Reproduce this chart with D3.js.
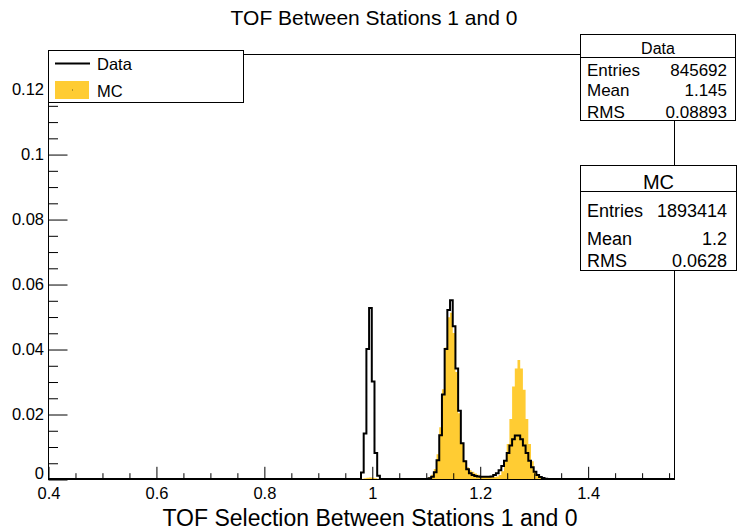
<!DOCTYPE html>
<html>
<head>
<meta charset="utf-8">
<script src="https://cdn.jsdelivr.net/npm/d3@7"></script>
<style>
  body { margin: 0; background: #fff; }
  text { font-family: "Liberation Sans", Arial, Helvetica, sans-serif; fill: #000; }
</style>
</head>
<body>
<div id="chart"></div>
<script>
// Histogram contents (normalised), bins of 0.005 starting at histStart
var binWidth = 0.005;
var histStart = 0.975;

var dataCounts = [
  0, 0.002, 0.014, 0.040, 0.0526, 0.030, 0.008, 0.001, 0, 0,
  0, 0, 0, 0, 0, 0, 0, 0, 0, 0,
  0, 0, 0, 0, 0, 0, 0.0002, 0.0007, 0.0021, 0.0058,
  0.0135, 0.026, 0.040, 0.052, 0.055, 0.047, 0.034, 0.021, 0.011, 0.0055,
  0.0030, 0.0018, 0.0012, 0.0009, 0.0008, 0.0007, 0.0007, 0.0007, 0.0007, 0.0008,
  0.0012, 0.0018, 0.0027, 0.004, 0.0056, 0.008, 0.0103, 0.0122, 0.0134, 0.0134,
  0.0122, 0.0103, 0.008, 0.0056, 0.0036, 0.0022, 0.0012, 0.0006, 0.0003, 0.0001,
  0
];

var mcCounts = [
  0, 0.0001, 0.0002, 0.0004, 0.0005, 0.0004, 0.0002, 0.0001, 0, 0,
  0, 0, 0, 0, 0, 0, 0, 0, 0, 0,
  0, 0, 0, 0, 0.0001, 0.0003, 0.0006, 0.0013, 0.0031, 0.0076,
  0.0159, 0.0276, 0.0405, 0.0498, 0.0512, 0.0449, 0.0329, 0.0202, 0.0108, 0.0058,
  0.0036, 0.0027, 0.0022, 0.0017, 0.0013, 0.0009, 0.0007, 0.0006, 0.0006, 0.0006,
  0.0006, 0.0008, 0.0012, 0.0024, 0.0055, 0.0108, 0.0185, 0.0285, 0.034, 0.0366,
  0.034, 0.0275, 0.0185, 0.0108, 0.0055, 0.0024, 0.0009, 0.0003, 0.0001, 0
];

var xMajorTicks = [0.4, 0.6, 0.8, 1.0, 1.2, 1.4];
var yMajorTicks = [0, 0.02, 0.04, 0.06, 0.08, 0.1, 0.12];

var statsData = [["Entries", "845692"], ["Mean", "1.145"], ["RMS", "0.08893"]];
var statsMC = [["Entries", "1893414"], ["Mean", "1.2"], ["RMS", "0.0628"]];

var mcColor = "#ffcc33";

// Layout
var svgWidth = 738;
var svgHeight = 530;
var margin = {top: 54, right: 64, bottom: 51, left: 48};
var width = svgWidth - margin.left - margin.right;
var height = svgHeight - margin.top - margin.bottom;

var svg = d3.select("#chart")
  .append("svg")
  .attr("width", svgWidth)
  .attr("height", svgHeight);

var chartGroup = svg.append("g")
  .attr("transform", `translate(${margin.left}, ${margin.top})`);

var x = d3.scaleLinear().domain([0.4, 1.56]).range([0, width]);
var y = d3.scaleLinear().domain([0, 0.1308]).range([height, 0]);

// frame
chartGroup.append("rect")
  .attr("x", 0.5).attr("y", 0.5)
  .attr("width", width).attr("height", height)
  .attr("fill", "none")
  .attr("stroke", "#000")
  .attr("stroke-width", 1);

// step points from bin contents
function stepPoints(counts, closeBase) {
  var pts = [];
  var dom = x.domain();
  if (!closeBase) pts.push([dom[0], 0]);
  pts.push([histStart, 0]);
  counts.forEach(function(c, i) {
    var x0 = histStart + i * binWidth;
    pts.push([x0, c]);
    pts.push([x0 + binWidth, c]);
  });
  var end = histStart + counts.length * binWidth;
  pts.push([end, 0]);
  if (!closeBase) pts.push([dom[1], 0]);
  return pts;
}

var line = d3.line()
  .x(d => x(d[0]))
  .y(d => y(d[1]));

// MC filled histogram
chartGroup.append("path")
  .attr("d", line(stepPoints(mcCounts, true)) + "Z")
  .attr("fill", mcColor)
  .attr("stroke", "none");

// Data histogram outline
chartGroup.append("path")
  .attr("d", line(stepPoints(dataCounts, false)))
  .attr("fill", "none")
  .attr("stroke", "#000")
  .attr("stroke-width", 2)
  .attr("stroke-linejoin", "miter");

// axes
var xMinor = d3.range(0.45, 1.5601, 0.05).filter(v => !xMajorTicks.some(t => Math.abs(t - v) < 1e-6));
var yMinor = d3.range(0.005, 0.1306, 0.005).filter(v => !yMajorTicks.some(t => Math.abs(t - v) < 1e-6));

var xAxis = chartGroup.append("g")
  .attr("transform", `translate(0.5, ${height + 0.5})`)
  .call(d3.axisBottom(x).tickValues(xMajorTicks)
    .tickFormat(d => String(+d.toFixed(1)))
    .tickSizeInner(-12.7).tickSizeOuter(0).tickPadding(7.5));

chartGroup.append("g")
  .attr("transform", `translate(0.5, ${height + 0.5})`)
  .call(d3.axisBottom(x).tickValues(xMinor).tickFormat("")
    .tickSizeInner(-6.3).tickSizeOuter(0));

var yAxis = chartGroup.append("g")
  .attr("transform", "translate(0.5, 0.5)")
  .call(d3.axisLeft(y).tickValues(yMajorTicks)
    .tickFormat(d => String(+d.toFixed(2)))
    .tickSizeInner(-19).tickSizeOuter(0).tickPadding(4.5));

chartGroup.append("g")
  .attr("transform", "translate(0.5, 0.5)")
  .call(d3.axisLeft(y).tickValues(yMinor).tickFormat("")
    .tickSizeInner(-9.5).tickSizeOuter(0));

chartGroup.selectAll(".domain").remove();
chartGroup.selectAll(".tick line").attr("stroke", "#000");
chartGroup.selectAll(".tick text")
  .attr("font-size", "16.5px")
  .attr("font-family", null);

// lift the y "0" label a little so it clears the "0.4" below it
yAxis.selectAll(".tick text").filter(d => d === 0).attr("dy", "-0.05em");

// titles
svg.append("text")
  .attr("x", 374).attr("y", 25)
  .attr("text-anchor", "middle")
  .attr("font-size", "21px")
  .text("TOF Between Stations 1 and 0");

svg.append("text")
  .attr("x", 370).attr("y", 526)
  .attr("text-anchor", "middle")
  .attr("font-size", "23px")
  .text("TOF Selection Between Stations 1 and 0");

// legend
var legend = svg.append("g");
legend.append("rect")
  .attr("x", 48.5).attr("y", 50.5)
  .attr("width", 195).attr("height", 52)
  .attr("fill", "#fff").attr("stroke", "#000");
legend.append("line")
  .attr("x1", 55).attr("x2", 90).attr("y1", 63.5).attr("y2", 63.5)
  .attr("stroke", "#000").attr("stroke-width", 2);
legend.append("text")
  .attr("x", 97).attr("y", 69.5)
  .attr("font-size", "16.5px")
  .text("Data");
legend.append("rect")
  .attr("x", 55).attr("y", 81).attr("width", 34).attr("height", 18)
  .attr("fill", mcColor);
legend.append("rect")
  .attr("x", 72).attr("y", 89.5).attr("width", 1).attr("height", 1)
  .attr("fill", "#6b5a1a");
legend.append("text")
  .attr("x", 97).attr("y", 96.5)
  .attr("font-size", "16.5px")
  .text("MC");

// stats boxes
function statsBox(x0, y0, w, h, sepY, title, titleSize, titleY, rows, rowSize, rowYs, valRight) {
  var g = svg.append("g");
  g.append("rect")
    .attr("x", x0 + 0.5).attr("y", y0 + 0.5)
    .attr("width", w).attr("height", h)
    .attr("fill", "#fff").attr("stroke", "#000");
  g.append("line")
    .attr("x1", x0).attr("x2", x0 + w)
    .attr("y1", sepY + 0.5).attr("y2", sepY + 0.5)
    .attr("stroke", "#000");
  g.append("text")
    .attr("x", x0 + w / 2 + 0.5).attr("y", titleY)
    .attr("text-anchor", "middle")
    .attr("font-size", titleSize)
    .text(title);
  rows.forEach(function(r, i) {
    g.append("text")
      .attr("x", x0 + 7).attr("y", rowYs[i])
      .attr("font-size", rowSize)
      .text(r[0]);
    g.append("text")
      .attr("x", valRight).attr("y", rowYs[i])
      .attr("text-anchor", "end")
      .attr("font-size", rowSize)
      .text(r[1]);
  });
}

statsBox(580, 34, 155, 86, 57, "Data", "16px", 54, statsData, "17px", [75.5, 96, 117.5], 727);
statsBox(580, 165, 156, 105, 191, "MC", "20px", 188.5, statsMC, "18px", [216.5, 244.5, 267], 727);
</script>
</body>
</html>
